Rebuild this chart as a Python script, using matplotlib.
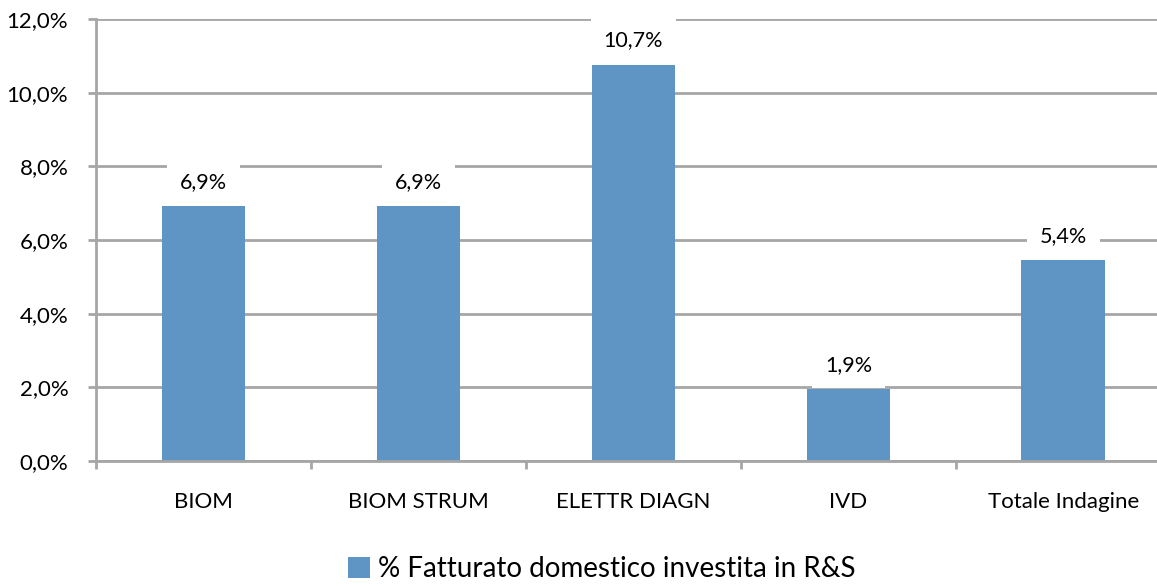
import numpy as np
import matplotlib.pyplot as plt

categories = ["BIOM", "BIOM STRUM", "ELETTR DIAGN", "IVD", "Totale Indagine"]
values = [6.92, 6.92, 10.76, 1.95, 5.45]
labels = ["6,9%", "6,9%", "10,7%", "1,9%", "5,4%"]
yticks = [0, 2, 4, 6, 8, 10, 12]
series_name = "% Fatturato domestico investita in R&S"

plt.rcParams['font.family'] = ['Lato', 'DejaVu Sans']
grid_col = '#a6a6a6'
bar_col = '#5f95c5'

fig = plt.figure(figsize=(11.57, 5.87), dpi=100)
ax = fig.add_axes([0.083, 0.2147, 0.929, 0.7529])

x = np.arange(len(categories))
bars = ax.bar(x, values, width=0.39, color=bar_col, zorder=2, label=series_name)

for xi, v, lab in zip(x, values, labels):
    ax.text(xi, v + 0.66, lab, ha='center', va='center', fontsize=15.5, zorder=1.5,
            bbox=dict(boxstyle='square,pad=0.6', fc='white', ec='none'))

ax.set_ylim(0, 12)
ax.set_xlim(-0.5, len(categories) - 0.5)
ax.set_yticks(yticks)
ax.set_yticklabels([f"{t:.1f}%".replace('.', ',') for t in yticks], fontsize=16)
for t in yticks:
    ax.axhline(t, color=grid_col, lw=2, zorder=1)

ax.set_xticks(x)
ax.set_xticklabels(categories, fontsize=16)
ax.set_xticks(np.arange(len(categories) + 1) - 0.5, minor=True)
ax.tick_params(axis='x', which='major', length=0, pad=22)
ax.tick_params(axis='x', which='minor', length=6, width=2, color=grid_col, direction='out')
ax.tick_params(axis='y', length=6, width=2, color=grid_col, pad=14)

for s in ['top', 'right']:
    ax.spines[s].set_visible(False)
for s in ['left', 'bottom']:
    ax.spines[s].set_color(grid_col)
    ax.spines[s].set_linewidth(2)

fig.legend(handles=[bars], labels=[series_name], loc='center', bbox_to_anchor=(0.52, 0.03),
           frameon=False, fontsize=20, handlelength=0.8, handleheight=0.8, handletextpad=0.3)

fig.savefig("out.png", dpi=100)
